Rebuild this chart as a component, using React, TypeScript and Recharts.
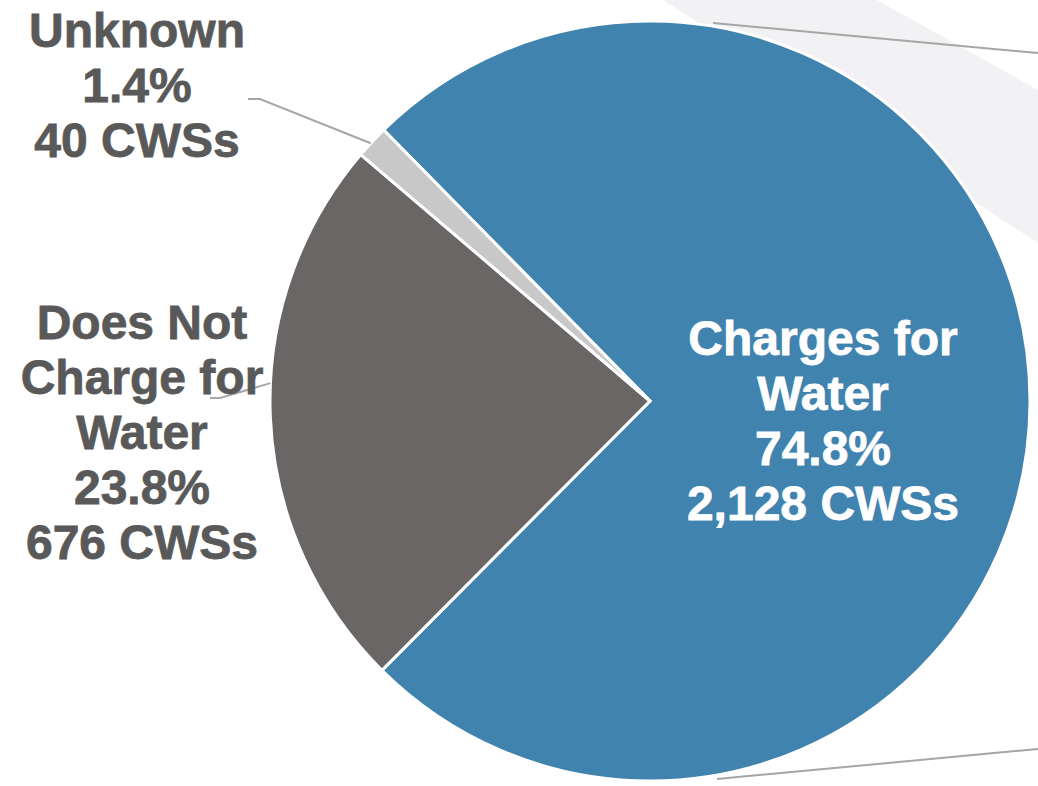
import React from "react";
import { PieChart, Pie, Cell } from "recharts";

const categories = ["Charges for Water", "Does Not Charge for Water", "Unknown"];
const labelLines = [["Charges for", "Water"], ["Does Not", "Charge for", "Water"], ["Unknown"]];
const values = [2128, 676, 40];
const colors = ["#3F83AE", "#6A6665", "#C8C8C8"];

const total = values.reduce((a, b) => a + b, 0);
const data = categories.map((name, i) => ({ name, value: values[i], lines: labelLines[i] }));

// label placement, offsets from pie centre
const LABELS = [
  { dx: 173, dy: 19, fill: "#FFFFFF", leader: null },
  { dx: -508, dy: 31, fill: "#595959", leader: { angle: 177.3, elbow: [-430, -3], end: [-440, -3] } },
  { dx: -513, dy: -316, fill: "#595959", leader: { angle: 137.3, elbow: [-390, -302], end: [-402, -302] } },
];

const LINE_H = 55;
const RAD = Math.PI / 180;

function renderLabel(props: any) {
  const { cx, cy, outerRadius, index } = props;
  const cfg = LABELS[index];
  const d = data[index];
  const lines = [
    ...d.lines,
    ((d.value / total) * 100).toFixed(1) + "%",
    d.value.toLocaleString("en-US") + " CWSs",
  ];
  const x = cx + cfg.dx;
  const top = cy + cfg.dy - ((lines.length - 1) * LINE_H) / 2 + 17;
  let leader = null;
  if (cfg.leader) {
    const a = cfg.leader.angle * RAD;
    const px = cx + outerRadius * Math.cos(a);
    const py = cy - outerRadius * Math.sin(a);
    const pts = `${px},${py} ${cx + cfg.leader.elbow[0]},${cy + cfg.leader.elbow[1]} ${cx + cfg.leader.end[0]},${cy + cfg.leader.end[1]}`;
    leader = <polyline points={pts} fill="none" stroke="#A6A6A6" strokeWidth={2} />;
  }
  return (
    <g key={`lbl-${index}`}>
      {leader}
      <text
        textAnchor="middle"
        fill={cfg.fill}
        stroke={cfg.fill}
        strokeWidth={0.8}
        fontFamily="'Liberation Sans', Arial, sans-serif"
        fontWeight="bold"
        fontSize={48}
      >
        {lines.map((t, i) => (
          <tspan key={i} x={x} y={top + i * LINE_H}>
            {t}
          </tspan>
        ))}
      </text>
    </g>
  );
}

export default function App() {
  return (
    <div style={{ position: "absolute", left: 0, top: 0, width: 1038, height: 786, background: "#fff" }}>
      <svg width={1038} height={786} style={{ position: "absolute", left: 0, top: 0 }}>
        <polygon points="663,0 877,0 1038,90 1038,243" fill="#F2F2F4" />
        <line x1={713} y1={23} x2={1038} y2={53} stroke="#A6A6A6" strokeWidth={2} />
        <line x1={717} y1={779} x2={1038} y2={749} stroke="#A6A6A6" strokeWidth={2} />
      </svg>
      <div style={{ position: "absolute", left: 0, top: 0 }}>
        <PieChart width={1038} height={786} margin={{ top: 0, right: 0, bottom: 0, left: 0 }}>
          <Pie
            data={data}
            dataKey="value"
            nameKey="name"
            cx={650}
            cy={401}
            outerRadius={380}
            startAngle={134.5}
            endAngle={-225.5}
            stroke="#FFFFFF"
            strokeWidth={3}
            label={renderLabel}
            labelLine={false}
            isAnimationActive={false}
          >
            {data.map((d, i) => (
              <Cell key={d.name} fill={colors[i]} />
            ))}
          </Pie>
        </PieChart>
      </div>
    </div>
  );
}
